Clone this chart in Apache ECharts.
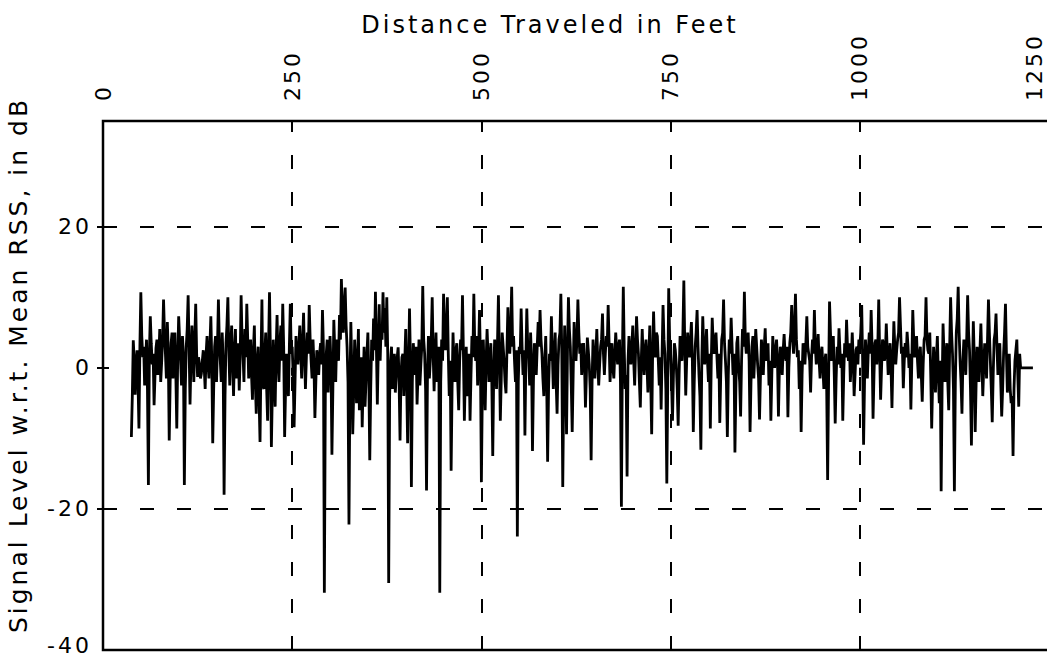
<!DOCTYPE html>
<html>
<head>
<meta charset="utf-8">
<script src="https://cdn.jsdelivr.net/npm/echarts@6.0.0/dist/echarts.min.js"></script>
<style>
html,body{margin:0;padding:0;background:#fff;}
#chart{width:1047px;height:657px;}
#chart text{letter-spacing:3px;}
</style>
</head>
<body>
<div id="chart"></div>
<script>
// Sampling of the record (feet): main samples every 2.5 ft, with a sample in between each
const firstFoot = 37.5;
const stepFeet = 1.25;

// Signal level (dB w.r.t. mean RSS), one block per 250 ft.
// levelsX: samples at 37.5 + 2.5*i ft ; midX: samples 1.25 ft after each of them
const levels0to250 = [
  -9.8, 3.9, -3.8, 2.5, -8.6, 10.7, 1.5, -2.5, 4.0, -16.6,
  7.3, 0.5, -5.3, 2.8, -1.0, 5.5, 0.8, 9.7, 2.0, 6.5,
  -10.3, 3.5, -1.5, 5.0, -8.6, 7.3, 1.0, 4.5, -16.6, 3.0,
  10.3, -5.2, 6.0, -2.0, 9.1, -1.3, 0.5, -0.8, 2.5, -3.0,
  4.5, -1.5, 7.3, -10.7, 3.0, -2.0, 9.7, 1.0, 5.0, -18.0,
  3.5, 10.0, -2.5, 6.0, -4.0, 5.5, 1.0, -3.2, 10.3, 2.0,
  5.5, 9.1, -1.5, 4.0, -4.5, 6.0, -6.5, 3.0, -10.5, 9.7,
  -3.0, 5.0, -7.5, 10.7, -11.2, 4.0, -5.5, 7.5, -2.0, 6.0,
  9.1, -9.8, 2.0, -4.0, 9.1
];
const mid0to250 = [
  -4.0, 1.0, 0.5, -2.0, 3.0, 4.5, 3.0, 1.0, -3.0, 2.0,
  3.5, 2.0, -1.0, 4.0, 1.5, -2.0, 4.0, 5.0, -1.5, 2.5,
  -2.0, 5.0, 2.0, -1.0, 1.5, 4.0, -2.5, 2.0, -3.0, 5.5,
  3.0, 1.0, 2.5, 4.0, 2.0, 1.5, -1.5, 1.0, 0.0, 2.0,
  0.5, 3.0, 1.0, -3.0, 4.5, 3.0, 3.5, -2.0, 1.0, -4.0,
  6.0, 2.5, 3.0, 1.0, 2.0, -1.5, 3.5, 1.5, 4.0, -2.0,
  1.5, 4.0, 2.0, -1.0, 2.5, -2.0, 1.0, -4.5, 1.0, -2.5,
  2.0, -3.0, 3.0, 2.0, -3.5, -1.0, 2.5, 1.0, 3.5, 1.0,
  3.0, -3.0, -1.5, 3.0, 2.0
];
const levels250to500 = [
  3.0, -8.4, 4.5, 0.5, 6.0, -1.5, 7.8, -3.0, 5.0, 8.9,
  1.0, 4.0, -7.1, 2.5, -1.0, 3.5, 8.2, -31.9, 2.0, -3.5,
  4.5, -12.3, 6.8, -2.0, 3.0, 7.5, 12.6, 5.0, 11.4, 3.0,
  -22.2, 6.5, -9.4, 4.0, -5.0, 5.5, -3.5, -8.4, 3.0, -2.0,
  5.0, -13.1, 4.0, 7.0, 10.8, -5.2, 9.0, 6.0, 10.7, 8.5,
  10.0, -30.5, 1.0, -3.0, 2.0, -1.0, 2.9, -10.3, 1.5, -4.0,
  5.5, -10.7, 8.4, -16.9, 3.5, -1.0, -5.2, 4.0, 0.5, 11.6,
  2.0, -17.4, 4.5, 1.0, 10.0, -3.3, 5.0, 1.5, -31.9, 4.0,
  10.5, 2.5, 10.0, -4.0, -14.6, 5.0, -2.0, 3.5, -6.0, 4.0,
  10.3, -7.5, 3.0, -1.5, -7.5, 4.5, 10.5, 1.0, -2.5, 8.2
];
const mid250to500 = [
  -1.0, -2.0, 1.5, 3.0, 2.0, 3.5, 2.0, 1.5, 2.0, 4.0,
  -1.5, 0.5, -2.0, 1.0, 2.0, 0.5, 3.0, -4.0, 4.0, 1.0,
  0.5, -3.0, 2.5, 4.0, 1.0, 4.0, 8.0, 9.0, 6.0, -2.0,
  -3.0, 0.0, -3.5, 1.0, 0.5, -6.0, 1.5, -2.0, -5.5, 2.0,
  -1.5, -3.0, 1.0, 2.5, 3.0, 2.5, 1.0, 4.0, 5.0, 3.0,
  2.0, -4.0, 3.0, 0.5, -3.5, 1.5, -2.0, -1.0, 2.0, 1.0,
  -2.0, 0.5, 1.0, -2.0, 1.5, 3.0, -1.0, -2.5, 3.0, 4.0,
  -3.0, -1.0, -1.5, 4.0, 2.0, 1.5, -2.0, 3.0, -2.0, 1.0,
  4.0, 6.0, 2.0, 1.0, -3.0, 0.5, 2.5, -2.0, 1.0, 2.5,
  2.0, -1.0, -4.0, 2.0, -1.0, 1.5, 3.0, 4.5, 2.0, 1.0
];
const levels500to750 = [
  -16.2, 4.0, -6.0, 5.5, -2.0, 3.5, -12.5, 4.0, -3.0, 10.3,
  -7.5, 5.0, 1.0, -3.6, 8.6, 2.0, 11.5, 4.5, -2.0, -23.9,
  3.0, 8.4, -1.0, -9.6, 8.4, 1.5, 5.0, -11.8, 3.5, -1.0,
  6.5, 8.2, 2.0, -4.0, 4.5, -13.3, 2.0, 7.3, -3.0, 5.0,
  -6.5, 4.0, 10.5, -16.9, 6.0, -9.4, 10.0, 3.0, -9.1, 6.5,
  1.0, 9.7, 2.0, -1.0, 3.5, -5.6, 4.3, 0.5, -13.1, 4.0,
  -1.5, 5.5, -2.5, 3.0, 7.7, -1.0, 4.5, 8.9, -2.0, 3.5,
  -1.5, 5.0, 0.5, 4.0, -19.7, 11.5, -3.0, -15.4, 4.5, 0.5,
  6.0, -2.5, 7.3, 2.0, -5.6, 5.5, -1.0, 4.0, -3.5, 6.0,
  -9.4, 8.0, 1.5, 4.5, -2.5, -5.9, 8.9, 2.0, -16.4, 11.3
];
const mid500to750 = [
  -3.0, -1.0, 1.0, 2.0, 1.0, -2.0, -1.0, 1.5, 3.5, 2.0,
  -1.5, 3.0, -2.0, 2.5, 4.0, 5.5, 3.0, 1.0, 2.5, -2.0,
  2.0, 3.0, 2.5, 1.0, 3.0, -2.5, 1.0, -2.0, 1.0, 3.0,
  3.0, 4.0, -1.5, 1.0, -2.0, -3.0, 1.0, 2.0, 1.5, -2.0,
  0.5, 5.0, 2.0, -3.0, 0.0, 2.5, 5.5, -2.5, -1.0, 3.0,
  4.0, 5.0, 3.5, 1.0, 0.5, -1.0, 2.5, -3.0, -2.0, 1.0,
  2.0, 1.0, 0.5, 4.0, 2.0, 2.0, 3.0, 3.5, 1.0, 0.0,
  2.0, 2.5, 3.0, -2.0, 1.0, 2.5, -1.0, 1.0, 2.0, 3.0,
  1.0, 2.5, 4.0, -2.0, 1.0, 1.5, 2.5, 0.5, 2.0, -2.0,
  2.0, 3.0, 5.0, 1.0, 1.5, 2.0, 4.0, -3.0, -2.0, 4.0
];
const levels750to1000 = [
  2.0, -7.5, 3.5, 0.5, -8.2, 4.5, 1.0, 12.4, -3.9, 5.0,
  1.5, 6.5, -9.1, 3.0, 8.2, -1.0, -11.6, 7.3, 0.5, 5.5,
  -2.0, -8.6, 7.1, 2.0, 5.0, -1.5, -7.8, 4.0, 9.7, 1.0,
  -9.8, 4.0, 7.1, -1.0, -12.0, 3.5, 0.0, -6.9, 5.5, 10.8,
  2.0, 5.0, -9.1, 3.0, -1.5, 5.5, 0.5, -7.3, 4.0, -1.0,
  5.6, 2.0, -2.5, -7.5, 4.5, 0.0, 4.0, -6.9, 3.0, -1.0,
  4.8, 1.0, -7.0, 3.5, 8.9, 2.0, 10.5, 1.5, -3.0, -9.1,
  3.5, 0.5, 7.3, 2.0, -3.5, 4.0, 8.2, 0.5, 4.8, -1.5,
  3.0, -3.0, 2.0, -15.9, 9.4, 1.0, 4.5, -7.9, 3.0, 5.6,
  0.0, -7.5, 3.5, 6.8, 1.0, -2.0, 5.0, -4.0, 2.5, 0.5
];
const mid750to1000 = [
  -2.0, -1.0, 2.5, -3.0, -1.0, 1.5, 5.0, 3.0, 1.0, 2.5,
  4.0, 1.0, -2.0, 5.0, 3.0, -4.0, 1.0, 3.0, 2.5, 1.0,
  2.0, 1.0, 3.5, 4.0, 1.5, 2.0, -1.0, 5.0, 3.5, -2.0,
  -1.0, 2.0, 3.0, 2.0, -3.0, 4.5, -2.0, 1.0, 3.0, 4.0,
  4.0, 1.0, -2.0, 4.5, 2.0, 3.0, -1.5, -1.0, 2.0, 3.0,
  1.0, 3.5, 1.0, -1.0, 2.0, 2.5, 1.0, 0.0, 2.0, 2.5,
  2.0, 3.0, 0.0, 5.0, 4.0, 6.0, 4.0, 2.5, 1.0, -1.0,
  1.5, 3.5, 3.0, 1.0, 1.5, 2.0, 3.0, 2.5, 1.0, 2.0,
  0.0, 1.0, -3.0, -2.0, 5.0, 2.5, -1.0, -1.5, 0.5, 2.5,
  2.0, -1.0, 1.5, 3.0, 3.5, 1.0, 1.5, -1.0, 3.0, 4.0
];
const levels1000to1230 = [
  3.0, 8.9, -10.9, 4.0, -1.5, 5.0, 8.2, -7.2, 3.5, 0.5,
  9.7, -4.5, 4.0, 1.0, 6.3, -1.0, 3.5, -5.7, 6.6, 0.5,
  4.0, 10.0, 2.0, -2.9, 3.5, 5.1, 0.0, -5.9, 8.2, 1.5,
  4.5, -1.5, 3.0, -4.8, 4.0, 10.0, 2.5, 5.0, -8.6, 3.0,
  -3.5, 4.5, -5.0, -17.5, 6.3, -2.0, 3.5, -6.0, 10.0, 2.0,
  -17.5, 5.0, 11.5, 1.0, -6.5, 4.0, -1.0, 10.3, 2.5, -11.0,
  6.6, -9.1, 3.0, -2.0, 6.3, -4.0, 3.5, -1.5, 9.7, 1.0,
  -7.7, 4.0, 7.7, -1.0, 3.5, -6.9, 2.0, 9.1, -3.5, 2.0,
  -5.0, -12.5, 1.0, 4.0, -5.5, 0.0, 0.0, 0.0, 0.0, 0.0,
  0.0, 0.0
];
const mid1000to1230 = [
  5.0, 1.0, -2.0, 1.0, 2.5, 2.0, 3.0, -1.0, 4.0, 3.0,
  2.0, 0.0, 3.5, 2.0, 2.5, 1.0, 0.0, 1.0, 3.0, 2.5,
  5.0, 6.0, 3.0, 1.0, 1.5, 3.0, 2.0, 1.0, 4.0, 2.5,
  1.0, 2.0, -1.0, 0.5, 4.5, 4.0, 2.0, -1.0, -2.0, 0.0,
  1.5, -1.0, 1.0, -3.0, 2.0, 1.5, -2.0, 3.0, 5.0, -3.0,
  -2.0, 7.0, 5.0, -2.0, 1.0, 2.0, 4.0, 5.0, -3.0, -1.0,
  1.5, -2.0, 0.5, 2.5, 1.0, 0.0, 2.0, 4.0, 5.0, -3.0,
  -1.0, 5.0, 3.0, 1.5, -2.0, -3.0, 5.0, 2.0, -1.0, -3.0,
  -4.0, -3.0, 2.5, -1.0, 2.0, 0.0, 0.0, 0.0, 0.0, 0.0,
  0.0, 0.0
];

// Axis ticks / reference lines
const xTickFeet = [250, 500, 750, 1000, 1250];
const yTickLevels = [-20, 0, 20];
const yLabelLevels = [-40, -20, 0, 20];
const dashedFeet = [250, 500, 750, 1000];
const dashedLevels = [20, -20];

const blocks = [
  [levels0to250, mid0to250],
  [levels250to500, mid250to500],
  [levels500to750, mid500to750],
  [levels750to1000, mid750to1000],
  [levels1000to1230, mid1000to1230]
];
const levels = [];
blocks.forEach(([main, mid]) => main.forEach((v, i) => { levels.push(v, mid[i]); }));
const seriesData = levels.map((v, i) => [firstFoot + i * stepFeet, v]);

const chart = echarts.init(document.getElementById('chart'), null, { renderer: 'svg' });
const FONT = '"DejaVu Sans", sans-serif';

const option = {
  animation: false,
  backgroundColor: '#ffffff',
  textStyle: { fontFamily: FONT, color: '#000' },
  grid: {
    left: 103, top: 121, width: 946, height: 529,
    containLabel: false, outerBoundsMode: 'none',
    show: true, borderColor: '#000', borderWidth: 2.5, backgroundColor: 'transparent'
  },
  xAxis: {
    type: 'value', position: 'top', min: 0, max: 1250, interval: 250,
    axisLine: { show: false },
    axisTick: { show: true, inside: true, length: 8, customValues: xTickFeet, lineStyle: { color: '#000', width: 2 } },
    axisLabel: {
      rotate: 90, margin: 20, fontSize: 22, color: '#000', fontFamily: FONT,
      formatter: v => (v === 1250 ? '{edge|' + v + '}' : String(v)),
      rich: { edge: { fontSize: 22, fontFamily: FONT, color: '#000', lineHeight: 6, padding: [0, 0, 30, 0] } }
    },
    splitLine: { show: false }
  },
  yAxis: [
    {
      type: 'value', min: -40, max: 35, interval: 20, position: 'left',
      axisLine: { show: false },
      axisTick: { show: true, inside: false, length: 6, customValues: yTickLevels, lineStyle: { color: '#000', width: 2 } },
      axisLabel: {
        margin: 11, fontSize: 22, color: '#000', fontFamily: FONT, customValues: yLabelLevels,
        formatter: v => (v === -40 ? '{low|' + v + '}' : String(v)),
        rich: { low: { fontSize: 22, fontFamily: FONT, color: '#000', lineHeight: 6, padding: [0, 0, 10, 0] } }
      },
      splitLine: { show: false }
    },
    {
      type: 'value', min: -40, max: 35, interval: 20, position: 'left', offset: 0,
      axisLine: { show: false },
      axisTick: { show: true, inside: true, length: 6, customValues: yTickLevels, lineStyle: { color: '#000', width: 2 } },
      axisLabel: { show: false },
      splitLine: { show: false }
    }
  ],
  graphic: [
    {
      type: 'text', x: 550, y: 25,
      style: { text: 'Distance Traveled in Feet', font: '24px ' + FONT, fill: '#000', align: 'center', verticalAlign: 'middle' }
    },
    {
      type: 'text', x: 18, y: 365, rotation: Math.PI / 2,
      style: { text: 'Signal Level w.r.t. Mean RSS, in dB', font: '25px ' + FONT, fill: '#000', align: 'center', verticalAlign: 'middle' }
    }
  ],
  series: [
    {
      type: 'line', xAxisIndex: 0, yAxisIndex: 0,
      data: seriesData,
      showSymbol: false, symbol: 'none',
      lineStyle: { color: '#000', width: 2.8 },
      z: 3,
      markLine: {
        silent: true, symbol: 'none', animation: false,
        label: { show: false },
        lineStyle: { color: '#000', width: 2, type: [14, 23] },
        data: dashedFeet.map(v => ({ xAxis: v })).concat(dashedLevels.map(v => ({ yAxis: v })))
      }
    }
  ]
};
chart.setOption(option);
</script>
</body>
</html>
